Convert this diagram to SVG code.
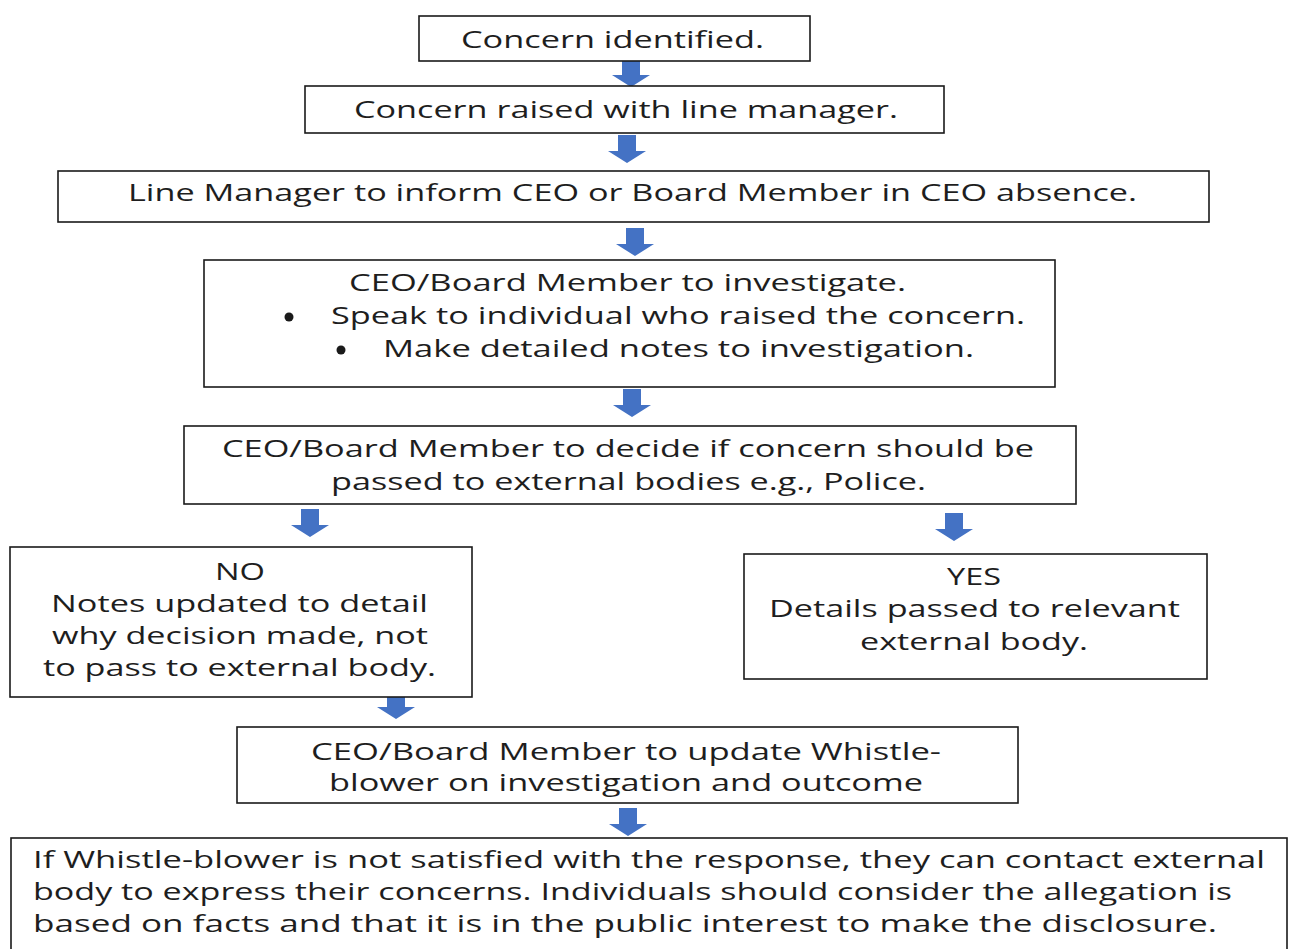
<svg xmlns="http://www.w3.org/2000/svg" xmlns:xlink="http://www.w3.org/1999/xlink" width="1295" height="949" viewBox="0 0 1295 949">
<style>
.box{fill:#fff;stroke:#1a1a1a;stroke-width:1.6}
.t{font-family:"Open Sans",Lato,"Liberation Sans",sans-serif;font-size:23px;fill:#1e1e1e}
.arr{fill:#4472C4}
</style>
<defs>
<path id="arrow" d="M-9,0 H9 V16 H19 L0,28 L-19,16 H-9 Z"/>
</defs>
<rect width="1295" height="949" fill="#fff"/>
<g id="connectors" class="arr">
<use xlink:href="#arrow" transform="translate(631,59)"/>
<use xlink:href="#arrow" transform="translate(627,135)"/>
<use xlink:href="#arrow" transform="translate(635,228)"/>
<use xlink:href="#arrow" transform="translate(632,389)"/>
<use xlink:href="#arrow" transform="translate(310,509)"/>
<use xlink:href="#arrow" transform="translate(954,513)"/>
<use xlink:href="#arrow" transform="translate(396,691)"/>
<use xlink:href="#arrow" transform="translate(628,808)"/>
</g>
<g id="n1">
<rect class="box" x="419" y="16" width="391" height="45"/>
<text class="t" x="461" y="48" textLength="303" lengthAdjust="spacingAndGlyphs">Concern identified.</text>
</g>
<g id="n2">
<rect class="box" x="305" y="86" width="639" height="47"/>
<text class="t" x="354" y="118" textLength="544" lengthAdjust="spacingAndGlyphs">Concern raised with line manager.</text>
</g>
<g id="n3">
<rect class="box" x="58" y="171" width="1151" height="51"/>
<text class="t" x="128" y="201" textLength="1009" lengthAdjust="spacingAndGlyphs">Line Manager to inform CEO or Board Member in CEO absence.</text>
</g>
<g id="n4">
<rect class="box" x="204" y="260" width="851" height="127"/>
<text class="t" x="349" y="291" textLength="557" lengthAdjust="spacingAndGlyphs">CEO/Board Member to investigate.</text>
<circle cx="289" cy="317" r="4.5" fill="#1a1a1a"/>
<text class="t" x="331" y="324" textLength="694" lengthAdjust="spacingAndGlyphs">Speak to individual who raised the concern.</text>
<circle cx="341" cy="350" r="4.5" fill="#1a1a1a"/>
<text class="t" x="383" y="357" textLength="591" lengthAdjust="spacingAndGlyphs">Make detailed notes to investigation.</text>
</g>
<g id="n5">
<rect class="box" x="184" y="426" width="892" height="78"/>
<text class="t" x="222" y="457" textLength="812" lengthAdjust="spacingAndGlyphs">CEO/Board Member to decide if concern should be</text>
<text class="t" x="331" y="490" textLength="595" lengthAdjust="spacingAndGlyphs">passed to external bodies e.g., Police.</text>
</g>
<g id="n6">
<rect class="box" x="10" y="547" width="462" height="150"/>
<text class="t" x="215" y="580" textLength="50" lengthAdjust="spacingAndGlyphs">NO</text>
<text class="t" x="51" y="612" textLength="377" lengthAdjust="spacingAndGlyphs">Notes updated to detail</text>
<text class="t" x="52" y="644" textLength="376" lengthAdjust="spacingAndGlyphs">why decision made, not</text>
<text class="t" x="43" y="676" textLength="393" lengthAdjust="spacingAndGlyphs">to pass to external body.</text>
</g>
<g id="n7">
<rect class="box" x="744" y="554" width="463" height="125"/>
<text class="t" x="947" y="585" textLength="54" lengthAdjust="spacingAndGlyphs">YES</text>
<text class="t" x="769" y="617" textLength="411" lengthAdjust="spacingAndGlyphs">Details passed to relevant</text>
<text class="t" x="860" y="650" textLength="228" lengthAdjust="spacingAndGlyphs">external body.</text>
</g>
<g id="n8">
<rect class="box" x="237" y="727" width="781" height="76"/>
<text class="t" x="311" y="760" textLength="630" lengthAdjust="spacingAndGlyphs">CEO/Board Member to update Whistle-</text>
<text class="t" x="329" y="791" textLength="594" lengthAdjust="spacingAndGlyphs">blower on investigation and outcome</text>
</g>
<g id="n9">
<rect class="box" x="11" y="838" width="1276" height="130"/>
<text class="t" x="33" y="868" textLength="1232" lengthAdjust="spacingAndGlyphs">If Whistle-blower is not satisfied with the response, they can contact external</text>
<text class="t" x="33" y="900" textLength="1199" lengthAdjust="spacingAndGlyphs">body to express their concerns. Individuals should consider the allegation is</text>
<text class="t" x="33" y="932" textLength="1184" lengthAdjust="spacingAndGlyphs">based on facts and that it is in the public interest to make the disclosure.</text>
</g>
</svg>
